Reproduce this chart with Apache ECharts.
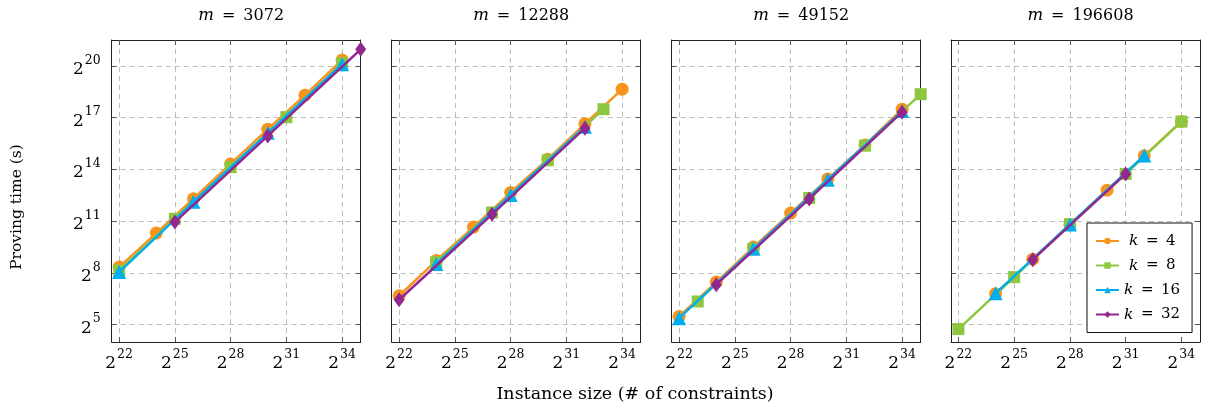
<!DOCTYPE html>
<html>
<head>
<meta charset="utf-8">
<script src="https://cdn.jsdelivr.net/npm/echarts@6/dist/echarts.min.js"></script>
<style>html,body{margin:0;padding:0;background:#fff}#c{width:1205px;height:415px}</style>
</head>
<body>
<div id="c"></div>
<script>
// x values: log2(instance size); y values: log2(proving time in s)
const xTicks = [22, 25, 28, 31, 34];
const yTicks = [5, 8, 11, 14, 17, 20];
const mValues = ['3072', '12288', '49152', '196608'];
const kValues = ['4', '8', '16', '32'];

const m3072_k4  = [[22, 8.34], [24, 10.31], [26, 12.30], [28, 14.32], [30, 16.33], [32, 18.30], [34, 20.34]];
const m3072_k8  = [[22, 8.14], [25, 11.14], [28, 14.13], [31, 17.03], [34, 20.15]];
const m3072_k16 = [[22, 8.05], [26, 12.12], [30, 16.12], [34, 20.10]];
const m3072_k32 = [[25, 10.95], [30, 15.94], [35, 20.96]];

const m12288_k4  = [[22, 6.68], [24, 8.72], [26, 10.66], [28, 12.66], [30, 14.59], [32, 16.64], [34, 18.65]];
const m12288_k8  = [[24, 8.63], [27, 11.50], [30, 14.53], [33, 17.49]];
const m12288_k16 = [[24, 8.52], [28, 12.52], [32, 16.47]];
const m12288_k32 = [[22, 6.45], [27, 11.40], [32, 16.39]];

const m49152_k4  = [[22, 5.48], [24, 7.47], [26, 9.50], [28, 11.47], [30, 13.45], [32, 15.42], [34, 17.49]];
const m49152_k8  = [[23, 6.35], [26, 9.40], [29, 12.34], [32, 15.38], [35, 18.36]];
const m49152_k16 = [[22, 5.38], [26, 9.40], [30, 13.40], [34, 17.38]];
const m49152_k32 = [[24, 7.32], [29, 12.29], [34, 17.32]];

const m196608_k4  = [[24, 6.80], [26, 8.80], [28, 10.80], [30, 12.80], [32, 14.79], [34, 16.78]];
const m196608_k8  = [[22, 4.75], [25, 7.76], [28, 10.83], [31, 13.74], [34, 16.77]];
const m196608_k16 = [[24, 6.82], [28, 10.81], [32, 14.80]];
const m196608_k32 = [[26, 8.77], [31, 13.74]];

const panels = [
  [m3072_k4, m3072_k8, m3072_k16, m3072_k32],
  [m12288_k4, m12288_k8, m12288_k16, m12288_k32],
  [m49152_k4, m49152_k8, m49152_k16, m49152_k32],
  [m196608_k4, m196608_k8, m196608_k16, m196608_k32]
];

const colors = ['#F7941D', '#8DC63F', '#00AEEF', '#92278F'];
const symbols = ['circle', 'rect', 'triangle', 'diamond'];
const symbolSizes = [13, 12, 14, [11, 15]];
const serif = '"DejaVu Serif", "Liberation Serif", serif';

const gridLefts = [111.7, 391.7, 671.7, 951];
const gridW = 249, gridTop = 40, gridH = 302;

const powRich = {
  b: { fontSize: 17, fontFamily: serif, color: '#000', lineHeight: 24, verticalAlign: 'bottom' },
  s: { fontSize: 12.5, fontFamily: serif, color: '#000', lineHeight: 24, verticalAlign: 'top', padding: [0, 0, 0, 1] }
};
const powFmt = v => '{b|2}{s|' + Math.round(v) + '}';

const grids = [], xAxes = [], yAxes = [], series = [], titles = [];
const dash = { type: [5, 4], color: '#bdbdbd', width: 1 };
const boxLine = { show: true, lineStyle: { color: '#222', width: 1 } };
const tickStyle = { color: '#555', width: 1 };

for (let i = 0; i < 4; i++) {
  grids.push({ left: gridLefts[i], top: gridTop, width: gridW, height: gridH, containLabel: false });
  xAxes.push({
    type: 'value', gridIndex: i, position: 'bottom', min: 21.6, max: 35,
    axisLine: boxLine,
    axisTick: { show: true, inside: true, length: 5, customValues: xTicks, lineStyle: tickStyle },
    axisLabel: { show: true, customValues: xTicks, formatter: powFmt, rich: powRich, margin: 6 },
    splitLine: { show: true, lineStyle: dash }
  });
  yAxes.push({
    type: 'value', gridIndex: i, position: 'left', min: 4, max: 21.5,
    axisLine: boxLine,
    axisTick: { show: true, inside: true, length: 5, customValues: yTicks, lineStyle: tickStyle },
    axisLabel: { show: i === 0, customValues: yTicks, formatter: powFmt, rich: powRich, margin: 11 },
    splitLine: { show: true, lineStyle: dash }
  });
  titles.push({
    text: '{i|m}\u2002=\u2002' + mValues[i],
    left: gridLefts[i] + gridW / 2, top: 2, textAlign: 'center',
    textStyle: { fontSize: 16, fontWeight: 'normal', fontFamily: serif, color: '#000',
      rich: { i: { fontSize: 16.5, fontStyle: 'italic', fontFamily: serif, color: '#000' } } }
  });
}
for (let i = 0; i < 4; i++) {
  xAxes.push({
    type: 'value', gridIndex: i, position: 'top', min: 21.6, max: 35,
    axisLine: boxLine,
    axisTick: { show: true, inside: true, length: 5, customValues: xTicks, lineStyle: tickStyle },
    axisLabel: { show: false }, splitLine: { show: false }
  });
  yAxes.push({
    type: 'value', gridIndex: i, position: 'right', min: 4, max: 21.5,
    axisLine: boxLine,
    axisTick: { show: true, inside: true, length: 5, customValues: yTicks, lineStyle: tickStyle },
    axisLabel: { show: false }, splitLine: { show: false }
  });
}

for (let i = 0; i < 4; i++) {
  for (let s = 0; s < 4; s++) {
    series.push({
      type: 'line', name: 'k' + kValues[s], xAxisIndex: i, yAxisIndex: i,
      data: panels[i][s],
      symbol: symbols[s], symbolSize: symbolSizes[s],
      showAllSymbol: true, animation: false, z: 2 + s, clip: false,
      lineStyle: { color: colors[s], width: 2.5 },
      itemStyle: { color: colors[s] }
    });
  }
}

const chart = echarts.init(document.getElementById('c'), null, { renderer: 'canvas' });
chart.setOption({
  animation: false,
  title: titles,
  grid: grids,
  xAxis: xAxes,
  yAxis: yAxes,
  series: series,
  legend: {
    orient: 'vertical', left: 1087, top: 223,
    padding: [9, 12, 9, 8], itemGap: 6.5, itemWidth: 23, itemHeight: 8,
    backgroundColor: '#fff', borderColor: '#111', borderWidth: 1, borderRadius: 0,
    data: kValues.map(k => 'k' + k),
    formatter: name => {
      const k = name.slice(1);
      return (k.length === 1 ? '{p|}' : '') + '{i|k}\u2002=\u2002' + k;
    },
    textStyle: { fontSize: 15, fontFamily: serif, color: '#000', lineHeight: 18,
      rich: { i: { fontSize: 15.5, fontStyle: 'italic', fontFamily: serif, color: '#000' }, p: { width: 5 } } },
    z: 10
  },
  graphic: [
    { type: 'text', x: 635, y: 385, z: 10,
      style: { text: 'Instance size (# of constraints)', font: '17.5px ' + serif, fill: '#000', align: 'center' } },
    { type: 'text', rotation: Math.PI / 2, x: 9, y: 207, z: 10,
      style: { text: 'Proving time (s)', font: '15.5px ' + serif, fill: '#000', align: 'center' } }
  ]
});
</script>
</body>
</html>
